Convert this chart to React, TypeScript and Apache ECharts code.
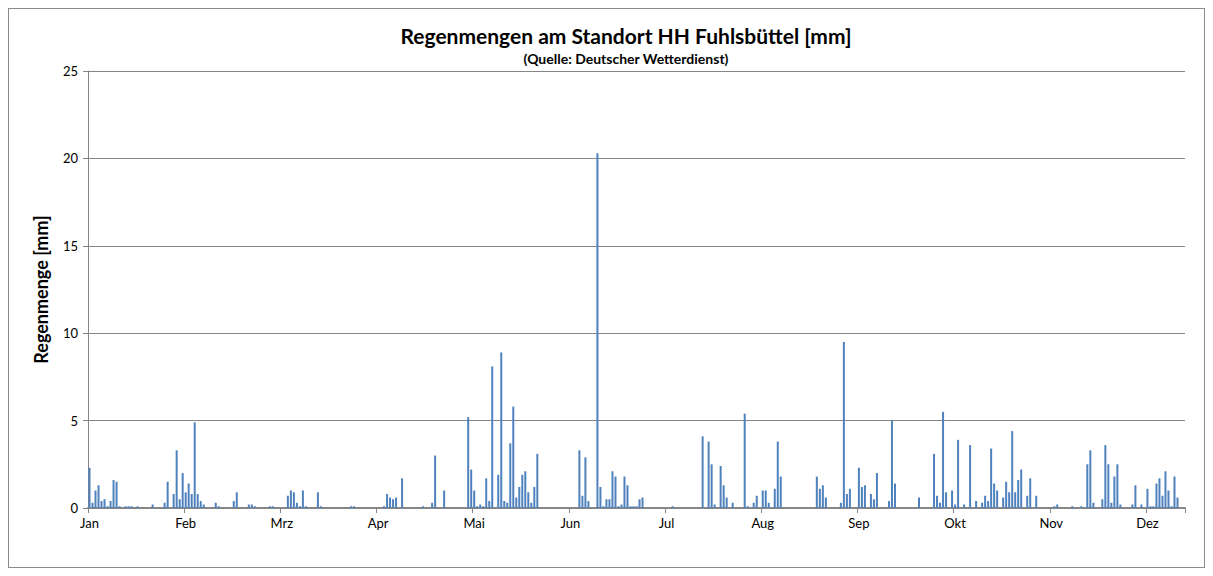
import React, { useEffect, useRef } from "react";
import * as echarts from "echarts";

const monthNames = ["Jan", "Feb", "Mrz", "Apr", "Mai", "Jun", "Jul", "Aug", "Sep", "Okt", "Nov", "Dez"];

// daily precipitation [mm], one array per month
const jan = [2.3, 0.3, 1.0, 1.3, 0.4, 0.5, 0.1, 0.4, 1.6, 1.5, 0.1, 0, 0.1, 0.1, 0.1, 0, 0.1, 0, 0, 0, 0, 0.2, 0, 0, 0, 0.3, 1.5, 0, 0.8, 3.3, 0.5];
const feb = [2.0, 0.9, 1.4, 0.8, 4.9, 0.8, 0.4, 0.2, 0, 0, 0, 0.3, 0.1, 0, 0, 0, 0, 0.4, 0.9, 0, 0, 0, 0.2, 0.2, 0.1, 0, 0, 0];
const mrz = [0, 0.1, 0.1, 0, 0, 0, 0, 0.7, 1.0, 0.9, 0.3, 0.1, 1.0, 0.1, 0, 0, 0, 0.9, 0.1, 0, 0, 0, 0, 0, 0, 0, 0, 0, 0.1, 0.1, 0];
const apr = [0, 0, 0, 0, 0, 0, 0, 0, 0.1, 0.8, 0.6, 0.5, 0.6, 0, 1.7, 0, 0, 0, 0, 0, 0, 0.1, 0, 0, 0.3, 3.0, 0, 0, 1.0, 0];
const mai = [0, 0, 0, 0, 0, 0, 5.2, 2.2, 1.0, 0.1, 0.2, 0.1, 1.7, 0.4, 8.1, 0, 1.9, 8.9, 0.4, 0.3, 3.7, 5.8, 0.6, 1.2, 1.9, 2.1, 0.9, 0.3, 1.2, 3.1, 0];
const jun = [0, 0, 0, 0, 0, 0, 0, 0, 0, 0, 0, 0, 3.3, 0.7, 2.9, 0.4, 0, 0, 20.3, 1.2, 0.1, 0.5, 0.5, 2.1, 1.8, 0.1, 0.2, 1.8, 1.3, 0.1];
const jul = [0.1, 0.1, 0.5, 0.6, 0, 0, 0, 0, 0, 0, 0, 0, 0, 0.1, 0, 0, 0, 0, 0, 0, 0, 0, 0, 4.1, 0, 3.8, 2.5, 0.2, 0, 2.4, 1.3];
const aug = [0.6, 0, 0.3, 0, 0, 0, 5.4, 0.1, 0, 0.3, 0.7, 0, 1.0, 1.0, 0.3, 0, 1.1, 3.8, 1.8, 0, 0, 0, 0, 0, 0, 0, 0, 0, 0, 0, 1.8];
const sep = [1.1, 1.3, 0.6, 0, 0, 0, 0, 0.3, 9.5, 0.8, 1.1, 0, 0, 2.3, 1.2, 1.3, 0, 0.8, 0.5, 2.0, 0, 0, 0, 0.4, 5.0, 1.4, 0, 0, 0, 0];
const okt = [0, 0, 0, 0.6, 0, 0, 0, 0, 3.1, 0.7, 0.3, 5.5, 0.9, 0, 1.0, 0.2, 3.9, 0, 0.2, 0, 3.6, 0, 0.4, 0, 0.3, 0.7, 0.4, 3.4, 1.4, 1.0, 0];
const nov = [0.6, 1.5, 0.9, 4.4, 0.9, 1.6, 2.2, 0, 0.7, 1.7, 0, 0.7, 0, 0, 0, 0, 0, 0.1, 0.2, 0, 0, 0, 0, 0.1, 0, 0, 0.1, 0, 2.5, 3.3];
const dez = [0.3, 0, 0, 0.5, 3.6, 2.5, 0.3, 1.8, 2.5, 0.2, 0, 0, 0, 0.2, 1.3, 0, 0.2, 0, 1.1, 0.1, 0.1, 1.4, 1.7, 0.7, 2.1, 1.0, 0.1, 1.8, 0.6, 0, 0];

const months = [jan, feb, mrz, apr, mai, jun, jul, aug, sep, okt, nov, dez];

const yTicks = [0, 5, 10, 15, 20, 25];

const categories: string[] = [];
const values: number[] = [];
months.forEach((arr, m) => {
  arr.forEach((v, i) => {
    categories.push(`${i + 1}.${m + 1}.`);
    values.push(v);
  });
});

const FONT = "Lato, 'Open Sans', sans-serif";

export default function App() {
  const ref = useRef<HTMLDivElement>(null);
  useEffect(() => {
    if (!ref.current) return;
    const chart = echarts.init(ref.current, undefined, { renderer: "svg" });
    chart.setOption({
      animation: false,
      backgroundColor: "#ffffff",
      textStyle: { fontFamily: FONT },
      graphic: [
        {
          type: "text",
          x: 617,
          y: 26,
          style: {
            text: "Regenmengen am Standort HH Fuhlsbüttel [mm]",
            font: `bold 21px ${FONT}`,
            fill: "#000",
            textAlign: "center",
            textVerticalAlign: "middle",
          },
        },
        {
          type: "text",
          x: 617,
          y: 49,
          style: {
            text: "(Quelle: Deutscher Wetterdienst)",
            font: `bold 14px ${FONT}`,
            fill: "#000",
            textAlign: "center",
            textVerticalAlign: "middle",
          },
        },
      ],
      grid: { left: 79, top: 62, width: 1097, height: 437, containLabel: false },
      xAxis: {
        type: "category",
        data: categories,
        boundaryGap: true,
        axisLine: { lineStyle: { color: "#868686", width: 2 } },
        axisTick: { show: true, interval: 31, length: 5, lineStyle: { color: "#868686" } },
        axisLabel: {
          interval: 31,
          margin: 8,
          color: "#000",
          fontSize: 13,
          fontFamily: FONT,
          formatter: (val: string) => monthNames[parseInt(val.split(".")[1], 10) - 1],
        },
        splitLine: { show: false },
      },
      yAxis: {
        type: "value",
        min: yTicks[0],
        max: yTicks[yTicks.length - 1],
        interval: 5,
        name: "Regenmenge [mm]",
        nameLocation: "middle",
        nameGap: 38,
        nameTextStyle: { fontSize: 18, fontWeight: "bold", color: "#000", fontFamily: FONT },
        axisLine: { show: true, lineStyle: { color: "#868686", width: 1 } },
        axisTick: { show: true, length: 5, inside: false, lineStyle: { color: "#868686" } },
        axisLabel: { margin: 10, color: "#000", fontSize: 13, fontFamily: FONT },
        splitLine: { show: true, lineStyle: { color: "#868686", width: 1 } },
      },
      series: [
        {
          type: "bar",
          data: values,
          barWidth: 2,
          itemStyle: { color: "#4f81bd" },
        },
      ],
    });
    return () => chart.dispose();
  }, []);
  return (
    <div
      ref={ref}
      style={{ width: 1195, height: 558, border: "1px solid #8a8a8a", background: "#fff" }}
    />
  );
}
